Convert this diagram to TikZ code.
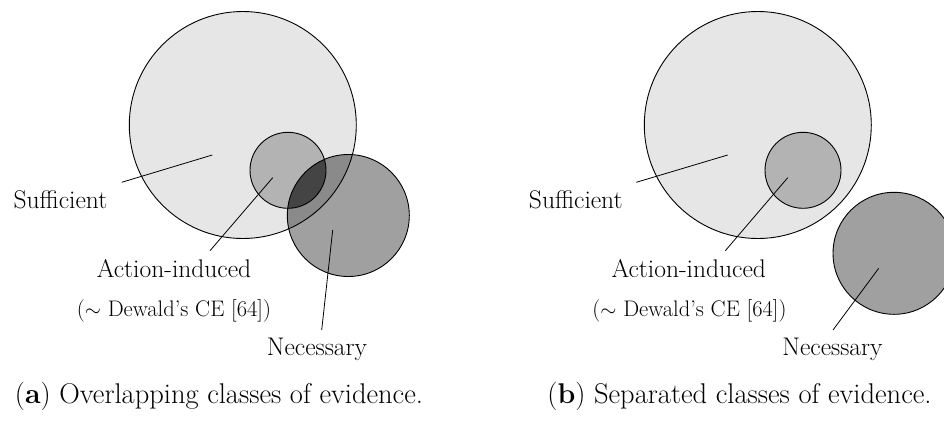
\documentclass[tikz,border=0pt]{standalone}
\usepackage{fontspec}
\definecolor{suffill}{HTML}{E6E6E6}
\definecolor{actfill}{HTML}{B3B3B3}
\definecolor{necfill}{HTML}{A0A0A0}
\definecolor{necsuf}{HTML}{8A8A8A}
\definecolor{necact}{HTML}{444444}
\tikzset{
  outline/.style={draw=black, line width=0.9pt},
  leader/.style={draw=black, line width=0.8pt},
  lbl/.style={anchor=base, inner sep=0pt, font=\fontsize{25.5}{30}\selectfont},
  smalllbl/.style={anchor=base, inner sep=0pt, font=\fontsize{22.5}{27}\selectfont},
  caption/.style={anchor=base, inner sep=0pt, font=\fontsize{28.5}{34}\selectfont},
}
\begin{document}
\begin{tikzpicture}[x=1pt, y=-1pt]
\useasboundingbox (0,0) rectangle (944,421);

% ---------- (a) overlapping classes ----------
\coordinate (aS) at (242.8,125);
\coordinate (aA) at (288,170.3);
\coordinate (aN) at (348.3,215.5);

\fill[suffill] (aS) circle (113.5);
\fill[actfill] (aA) circle (38);
\fill[necfill] (aN) circle (61);
\begin{scope}
  \clip (aN) circle (61);
  \fill[necsuf] (aS) circle (113.5);
  \fill[necact] (aA) circle (38);
\end{scope}
\draw[outline] (aS) circle (113.5);
\draw[outline] (aA) circle (38);
\draw[outline] (aN) circle (61);

\node[lbl] (aSufTxt) at (60.5,208.3) {Sufficient};
\node[lbl] (aActTxt) at (174,277.7) {Action-induced};
\node[smalllbl] (aDewTxt) at (174,316) {($\sim$ Dewald’s CE [64])};
\node[lbl] (aNecTxt) at (317,355) {Necessary};

\coordinate (aSufEnd) at (121.7,182.3);
\coordinate (aSufIn) at (212.3,155);
\coordinate (aActEnd) at (210,250.7);
\coordinate (aActIn) at (272.7,177.7);
\coordinate (aNecEnd) at (321.7,330);
\coordinate (aNecIn) at (332.7,230);
\draw[leader] (aSufEnd) -- (aSufIn);
\draw[leader] (aActEnd) -- (aActIn);
\draw[leader] (aNecEnd) -- (aNecIn);

\node[caption] (aCap) at (219,403) {(\textbf{a}) Overlapping classes of evidence.};

% ---------- (b) separated classes ----------
\coordinate (bS) at (757.8,125);
\coordinate (bA) at (803,170.3);
\coordinate (bN) at (894,253.3);

\fill[suffill] (bS) circle (113.5);
\fill[actfill] (bA) circle (38);
\fill[necfill] (bN) circle (61);
\draw[outline] (bS) circle (113.5);
\draw[outline] (bA) circle (38);
\draw[outline] (bN) circle (61);

\node[lbl] (bSufTxt) at (575.8,208.3) {Sufficient};
\node[lbl] (bActTxt) at (688.7,277.7) {Action-induced};
\node[smalllbl] (bDewTxt) at (689.5,316) {($\sim$ Dewald’s CE [64])};
\node[lbl] (bNecTxt) at (832.5,355) {Necessary};

\coordinate (bSufEnd) at (636.3,182.3);
\coordinate (bSufIn) at (727.7,155);
\coordinate (bActEnd) at (725.3,250.7);
\coordinate (bActIn) at (787.7,177.7);
\coordinate (bNecEnd) at (833,330);
\coordinate (bNecIn) at (878.7,268.3);
\draw[leader] (bSufEnd) -- (bSufIn);
\draw[leader] (bActEnd) -- (bActIn);
\draw[leader] (bNecEnd) -- (bNecIn);

\node[caption] (bCap) at (739.5,403) {(\textbf{b}) Separated classes of evidence.};
\end{tikzpicture}
\end{document}
